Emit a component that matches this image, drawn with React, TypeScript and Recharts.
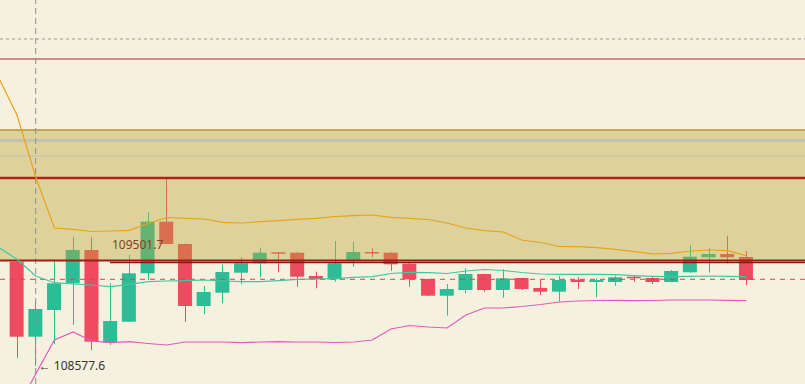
import React from 'react';
import {
  ComposedChart,
  Bar,
  Line,
  XAxis,
  YAxis,
  ReferenceLine,
  ReferenceArea,
  ReferenceDot,
} from 'recharts';

// candles, index 0..39
const opens = [
  109099.1, 108724.1, 108857.6, 108991.1, 109157.6, 108694.1, 108799.1, 109041.1, 109299.1, 109187.6,
  108877.6, 108944.1, 109044.1, 109091.1, 109146.1, 109144.1, 109027.6, 109011.1, 109104.1, 109147.6,
  109144.1, 109089.1, 109012.6, 108929.1, 108957.6, 109037.6, 108957.6, 109017.6, 108967.6, 108949.1,
  109009.1, 108997.6, 108997.6, 109024.1, 109017.6, 108997.6, 109046.1, 109121.1, 109137.6, 109122.6,
];
const highs = [
  109107.6, 108904.1, 109111.1, 109224.1, 109221.1, 108991.1, 109132.6, 109346.1, 109522.6, 109190.1,
  108977.6, 109086.1, 109121.1, 109169.1, 109147.6, 109149.1, 109049.1, 109202.6, 109199.1, 109166.1,
  109146.1, 109097.6, 109014.1, 108987.6, 109066.1, 109039.1, 109061.1, 109019.1, 109007.6, 109027.6,
  109021.1, 109016.1, 109029.1, 109032.6, 109024.1, 109057.6, 109182.6, 109166.1, 109229.1, 109152.6,
];
const lows = [
  108619.1, 108577.6, 108687.6, 108782.6, 108657.6, 108682.6, 108797.6, 109007.6, 109185.1, 108799.1,
  108836.1, 108891.1, 108986.1, 109021.1, 109046.1, 108974.1, 108966.1, 108999.1, 109074.1, 109121.1,
  109054.1, 108974.1, 108927.6, 108829.1, 108941.1, 108949.1, 108919.1, 108957.6, 108932.6, 108899.1,
  108962.6, 108921.1, 108979.1, 108999.1, 108987.6, 108996.1, 109044.1, 109044.1, 109091.1, 108982.6,
];
const closes = [
  108724.1, 108862.6, 108991.1, 109157.6, 108699.1, 108802.6, 109041.1, 109299.1, 109187.6, 108877.6,
  108947.6, 109047.6, 109091.1, 109144.1, 109140.1, 109024.1, 109012.6, 109091.1, 109147.6, 109141.1,
  109086.1, 109011.1, 108929.1, 108962.6, 109037.6, 108957.6, 109016.1, 108962.6, 108949.1, 109007.6,
  108997.6, 109007.6, 109021.1, 109016.1, 108997.6, 109052.6, 109124.1, 109137.6, 109121.1, 109007.6,
];

// bollinger bands, index -1..39
const upperBand = [
  110022.6, 109832.6, 109522.6, 109267.6, 109261.1, 109250.1, 109252.6, 109256.1, 109290.1, 109320.1, 109316.1,
  109312.6, 109296.1, 109292.6, 109299.1, 109304.1, 109311.1, 109316.1, 109324.1, 109329.1, 109332.6,
  109321.1, 109316.1, 109310.1, 109292.6, 109267.6, 109254.1, 109247.6, 109207.6, 109195.1, 109175.1,
  109174.1, 109169.1, 109161.1, 109149.1, 109137.6, 109141.1, 109152.6, 109157.6, 109154.1, 109129.1,
];
const middleBand = [
  109171.6, 109111.1, 109027.6, 108994.1, 108987.6, 108982.6, 108974.1, 108986.1, 108999.1, 109002.6, 109004.1,
  109007.6, 109002.6, 108999.1, 108999.1, 109004.1, 109011.1, 109012.6, 109014.1, 109021.1, 109024.1,
  109040.1, 109046.1, 109044.1, 109040.1, 109052.6, 109060.1, 109055.1, 109045.1, 109037.6, 109036.1,
  109036.1, 109036.1, 109034.1, 109029.1, 109026.1, 109024.1, 109026.1, 109027.6, 109026.1, 109024.1,
];
const lowerBand = [
  108207.6, 108362.6, 108537.6, 108707.6, 108747.6, 108702.6, 108694.1, 108699.1, 108690.1, 108682.6, 108697.6,
  108697.6, 108697.6, 108694.1, 108697.6, 108699.1, 108697.6, 108697.6, 108695.1, 108697.6, 108707.6,
  108762.6, 108780.1, 108772.6, 108767.6, 108832.6, 108867.6, 108867.6, 108875.1, 108885.1, 108897.6,
  108902.6, 108905.1, 108906.1, 108904.1, 108905.1, 108907.6, 108907.6, 108907.6, 108906.1, 108904.1,
];

// price levels drawn across the chart
const crossPrice = 110212.6;
const crossIndex = 1;
const resistanceHigh = 110112.6;
const zoneTop = 109757.6;
const zoneBottom = 109105.1;
const grayLevels = [109705.1, 109627.6];
const resistance = 109517.6;
const supportLevel = 109095.1;
const supportStart = 4.97;
const lastPrice = 109011.1;
const lowMark = { i: 1, price: 108577.6, text: '← 108577.6' };
const highMark = { i: 5.08, price: 109182.6, text: '109501.7' };

const priceDomain = [108487.6, 110407.6];
const indexDomain = [-0.909, 42.139];

const rows = upperBand.map((u, k) => {
  const i = k - 1;
  const row: any = { i, upper: u, mid: middleBand[k], lower: lowerBand[k] };
  if (i >= 0) {
    row.open = opens[i];
    row.high = highs[i];
    row.low = lows[i];
    row.close = closes[i];
  }
  return row;
});

const UP = '#2dbd96';
const DOWN = '#ef4b60';

function Candle(props: any) {
  const { x, y, width, height, payload } = props;
  if (payload == null || payload.open == null) return null;
  const { open, close, high, low } = payload;
  const top = Math.min(y, y + height);
  const h = Math.abs(height);
  const span = high - low || 1;
  const py = (v: number) => top + ((high - v) / span) * h;
  const color = close >= open ? UP : DOWN;
  const bodyTop = py(Math.max(open, close));
  const bodyH = Math.max(1.5, py(Math.min(open, close)) - bodyTop);
  const cx = Math.round(x + width / 2) + 0.5;
  return (
    <g>
      <line x1={cx} x2={cx} y1={top} y2={top + h} stroke={color} strokeWidth={1} />
      <rect x={x} y={bodyTop} width={width} height={bodyH} fill={color} />
    </g>
  );
}

export default function App() {
  return (
    <div style={{ position: 'absolute', left: 0, top: 0, width: 805, height: 384, background: '#f6f1de' }}>
      <ComposedChart
        width={805}
        height={384}
        data={rows}
        margin={{ top: 0, right: 0, bottom: 0, left: 0 }}
      >
        <XAxis dataKey="i" type="number" domain={indexDomain} allowDataOverflow hide />
        <YAxis type="number" domain={priceDomain} allowDataOverflow hide />
        <Bar
          dataKey={(d: any) => (d.open == null ? null : [d.low, d.high])}
          barSize={14}
          shape={<Candle />}
          isAnimationActive={false}
        />
        <ReferenceArea
          y1={zoneBottom}
          y2={zoneTop}
          fill="rgb(184,166,54)"
          fillOpacity={0.4}
          stroke="none"
          zIndex={350}
          ifOverflow="extendDomain"
        />
        <ReferenceLine y={zoneTop} stroke="#b8922c" strokeWidth={1.5} />
        <ReferenceLine y={grayLevels[0]} stroke="#c6c1ad" strokeWidth={3} />
        <ReferenceLine y={grayLevels[1]} stroke="#c3bea9" strokeWidth={1} />
        <ReferenceLine y={resistanceHigh} stroke="#a52a34" strokeWidth={1} />
        <ReferenceLine y={crossPrice} stroke="#9a9a9a" strokeDasharray="3 3" />
        <ReferenceLine x={crossIndex} stroke="#8e8e8e" strokeDasharray="6 4" />
        <ReferenceLine y={resistance} stroke="#b2221a" strokeWidth={2.5} />
        <ReferenceLine y={zoneBottom} stroke="#9e1f12" strokeWidth={2} />
        <ReferenceLine
          segment={[
            { x: supportStart, y: supportLevel },
            { x: indexDomain[1], y: supportLevel },
          ]}
          stroke="#861a0e"
          strokeWidth={1.5}
        />
        <ReferenceLine y={lastPrice} stroke="#e04050" strokeDasharray="5 5" />
        <Line type="linear" dataKey="upper" stroke="#e9a21c" strokeWidth={1.2} dot={false} isAnimationActive={false} />
        <Line type="linear" dataKey="mid" stroke="#45c4a4" strokeWidth={1.2} dot={false} isAnimationActive={false} />
        <Line type="linear" dataKey="lower" stroke="#e05bbd" strokeWidth={1.2} dot={false} isAnimationActive={false} />
        <ReferenceDot
          x={lowMark.i}
          y={lowMark.price}
          r={0}
          fill="none"
          stroke="none"
          label={{ value: lowMark.text, position: 'right', offset: 3, fill: '#333', fontSize: 12, fontFamily: 'Noto Sans, Arial, sans-serif' }}
        />
        <ReferenceDot
          x={highMark.i}
          y={highMark.price}
          r={0}
          fill="none"
          stroke="none"
          label={{ value: highMark.text, position: 'right', offset: 0, fill: '#8e3b2b', fontSize: 12, fontFamily: 'Noto Sans, Arial, sans-serif' }}
        />
      </ComposedChart>
    </div>
  );
}
